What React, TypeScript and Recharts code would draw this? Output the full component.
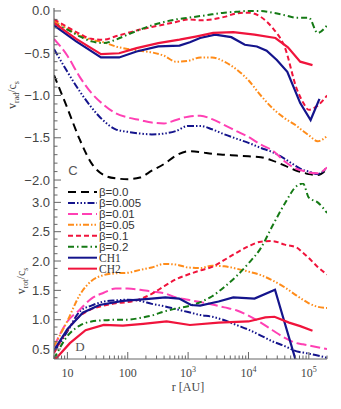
import React from 'react';
import { LineChart, Line, XAxis, YAxis } from 'recharts';

// shared radius grid [AU] for the beta runs
const rGrid = [6, 10, 16, 25, 40, 63, 100, 160, 250, 400, 630, 1000, 1600, 2500, 4000, 6300, 10000, 16000, 25000, 40000, 63000, 80000, 100000, 140000, 200000];

// panel C: v_rad / c_s
const vradB0 = [-0.76, -1.15, -1.52, -1.8, -1.94, -1.98, -1.99, -1.97, -1.89, -1.81, -1.71, -1.66, -1.67, -1.69, -1.7, -1.71, -1.72, -1.73, -1.77, -1.83, -1.89, -1.91, -1.93, -1.94, -1.87];
const vradB005 = [-0.45, -0.72, -0.95, -1.14, -1.3, -1.4, -1.43, -1.45, -1.46, -1.45, -1.42, -1.36, -1.36, -1.4, -1.46, -1.51, -1.56, -1.62, -1.67, -1.75, -1.84, -1.88, -1.9, -1.93, -1.85];
const vradB01 = [-0.33, -0.53, -0.78, -0.97, -1.11, -1.21, -1.26, -1.29, -1.32, -1.33, -1.29, -1.25, -1.24, -1.28, -1.35, -1.42, -1.49, -1.58, -1.65, -1.78, -1.87, -1.89, -1.91, -1.92, -1.85];
const vradB05 = [-0.12, -0.21, -0.29, -0.34, -0.37, -0.42, -0.45, -0.47, -0.49, -0.53, -0.6, -0.59, -0.55, -0.55, -0.6, -0.69, -0.82, -1.0, -1.15, -1.27, -1.36, -1.42, -1.47, -1.54, -1.48];
const vradB1 = [-0.1, -0.19, -0.27, -0.33, -0.34, -0.3, -0.26, -0.22, -0.19, -0.16, -0.13, -0.1, -0.11, -0.1, -0.07, -0.03, -0.02, -0.07, -0.2, -0.43, -0.92, -1.08, -1.17, -1.12, -1.0];
const vradB2 = [-0.15, -0.22, -0.3, -0.36, -0.38, -0.34, -0.28, -0.22, -0.17, -0.13, -0.1, -0.08, -0.06, -0.04, -0.02, -0.01, 0.0, 0.0, -0.02, -0.05, -0.08, -0.08, -0.08, -0.26, -0.17];

const ch1RadR = [6, 14, 36, 72, 140, 320, 720, 1070, 1580, 2800, 5200, 8700, 13800, 20000, 29500, 44000, 72000, 107000, 150000];
const ch1Rad = [-0.17, -0.36, -0.55, -0.55, -0.48, -0.42, -0.41, -0.37, -0.32, -0.28, -0.31, -0.4, -0.42, -0.47, -0.58, -0.72, -1.09, -1.29, -1.04];
const ch2RadR = [6, 14, 36, 72, 140, 320, 720, 1400, 2600, 5600, 12600, 28000, 45000, 72000, 115000];
const ch2Rad = [-0.14, -0.33, -0.51, -0.5, -0.44, -0.38, -0.34, -0.3, -0.26, -0.25, -0.28, -0.32, -0.43, -0.6, -0.64];

// panel D: v_rot / c_s (beta=0 has no rotation, stays off the axis)
const vrotB005 = [0.45, 0.8, 1.14, 1.24, 1.31, 1.33, 1.34, 1.32, 1.27, 1.23, 1.18, 1.13, 1.08, 1.05, 0.99, 0.91, 0.83, 0.73, 0.63, 0.55, 0.46, 0.44, 0.42, 0.39, 0.35];
const vrotB01 = [0.54, 0.97, 1.17, 1.36, 1.46, 1.53, 1.53, 1.51, 1.48, 1.45, 1.38, 1.34, 1.3, 1.26, 1.21, 1.16, 1.07, 0.95, 0.82, 0.69, 0.6, 0.58, 0.56, 0.53, 0.5];
const vrotB05 = [0.55, 0.98, 1.42, 1.66, 1.76, 1.79, 1.8, 1.85, 1.89, 1.95, 1.94, 1.89, 1.88, 1.92, 1.91, 1.87, 1.82, 1.76, 1.67, 1.55, 1.41, 1.34, 1.28, 1.22, 1.2];
const vrotB1 = [0.43, 0.82, 1.06, 1.18, 1.24, 1.28, 1.3, 1.35, 1.44, 1.57, 1.69, 1.77, 1.84, 1.9, 2.02, 2.14, 2.25, 2.33, 2.34, 2.28, 2.23, 2.14, 2.05, 1.9, 1.77];
const vrotB2 = [0.33, 0.72, 0.9, 0.97, 0.99, 1.0, 1.0, 1.03, 1.07, 1.14, 1.19, 1.23, 1.3, 1.4, 1.56, 1.74, 1.96, 2.22, 2.6, 2.98, 3.28, 3.32, 3.08, 3.0, 2.82];

const ch1RotR = [6, 10, 18, 34, 83, 200, 420, 710, 1120, 1580, 3200, 5600, 12600, 27500, 63000];
const ch1Rot = [0.48, 0.84, 1.12, 1.25, 1.32, 1.35, 1.38, 1.36, 1.25, 1.24, 1.31, 1.38, 1.36, 1.51, 0.25];
const ch2RotR = [6, 11, 20, 40, 83, 180, 440, 1070, 3200, 10000, 19000, 27000, 47000, 72000, 115000];
const ch2Rot = [0.3, 0.6, 0.82, 0.91, 0.9, 0.93, 0.97, 0.91, 0.95, 0.97, 1.04, 1.05, 0.95, 0.89, 0.81];

const xMajor = [10, 100, 1000, 10000, 100000];
const xMajorBase = ['10', '100', '10', '10', '10'];
const xMajorExp = ['', '', '3', '4', '5'];
const xTicks = [6, 7, 8, 9, ...[10, 100, 1000, 10000].flatMap((d) => [1, 2, 3, 4, 5, 6, 7, 8, 9].map((m) => m * d)), 100000, 200000];
const yTicksTop = Array.from({ length: 21 }, (_, i) => Math.round((-2 + i * 0.1) * 10) / 10);
const yTicksBot = Array.from({ length: 24 }, (_, i) => 0.375 + i * 0.125);

const series = [
  { key: 'b0', name: 'β=0.0', color: '#000000', dash: '8 5' },
  { key: 'b005', name: 'β=0.005', color: '#14148c', dash: '7 2 1.5 2 1.5 2 1.5 2' },
  { key: 'b01', name: 'β=0.01', color: '#ff40b4', dash: '10 4' },
  { key: 'b05', name: 'β=0.05', color: '#ff8c1a', dash: '6 2 1.5 2 1.5 2' },
  { key: 'b1', name: 'β=0.1', color: '#f0143c', dash: '5 3' },
  { key: 'b2', name: 'β=0.2', color: '#157a15', dash: '6 3 1.5 3' },
  { key: 'ch1', name: 'CH1', color: '#14148c', dash: undefined },
  { key: 'ch2', name: 'CH2', color: '#f0143c', dash: undefined },
];

const topRows = rGrid.map((r, i) => ({ r, b0: vradB0[i], b005: vradB005[i], b01: vradB01[i], b05: vradB05[i], b1: vradB1[i], b2: vradB2[i] }));
const botRows = rGrid.map((r, i) => ({ r, b005: vrotB005[i], b01: vrotB01[i], b05: vrotB05[i], b1: vrotB1[i], b2: vrotB2[i] }));
const ch1Top = ch1RadR.map((r, i) => ({ r, v: ch1Rad[i] }));
const ch2Top = ch2RadR.map((r, i) => ({ r, v: ch2Rad[i] }));
const ch1Bot = ch1RotR.map((r, i) => ({ r, v: ch1Rot[i] }));
const ch2Bot = ch2RotR.map((r, i) => ({ r, v: ch2Rot[i] }));

const frame = '#666';
const ink = '#444';
const sans = '"Liberation Sans", Arial, sans-serif';
const serif = '"Liberation Serif", "Times New Roman", serif';

const xTick = (side: 'top' | 'bottom', labels: boolean) => (p: any) => {
  const v = p.payload.value;
  const mi = xMajor.indexOf(v);
  const len = mi >= 0 ? 7 : 3.5;
  const dir = side === 'bottom' ? -1 : 1;
  return (
    <g>
      <line x1={p.x} x2={p.x} y1={p.y} y2={p.y + dir * len} stroke={frame} strokeWidth={1} />
      {labels && mi >= 0 && (
        <text x={p.x} y={p.y + 18} textAnchor="middle" fontSize={12} fontFamily={serif} fill={ink}>
          {xMajorBase[mi]}
          {xMajorExp[mi] && <tspan dy={-5} fontSize={8}>{xMajorExp[mi]}</tspan>}
        </text>
      )}
    </g>
  );
};

const yTick = (side: 'left' | 'right', labels: boolean) => (p: any) => {
  const v = p.payload.value;
  const major = Math.abs(v * 2 - Math.round(v * 2)) < 1e-6;
  const len = major ? 7 : 3.5;
  const dir = side === 'left' ? 1 : -1;
  return (
    <g>
      <line x1={p.x} x2={p.x + dir * len} y1={p.y} y2={p.y} stroke={frame} strokeWidth={1} />
      {labels && major && (
        <text x={p.x - 4} y={p.y + 4.5} textAnchor="end" fontSize={13} fontFamily={sans} fill={ink}>
          {v.toFixed(1).replace('-', '−')}
        </text>
      )}
    </g>
  );
};

const axisLine = { stroke: frame, strokeWidth: 1.2 };

export default function App() {
  const common = { type: 'number' as const, scale: 'log' as const, domain: [6, 200000], allowDataOverflow: true, ticks: xTicks, interval: 0 as const, tickSize: 0, tickMargin: 0, tickLine: false, axisLine, dataKey: 'r' };
  const betas = series.slice(1, 6);
  return (
    <div style={{ position: 'absolute', left: 0, top: 0, width: 341, height: 409, background: '#fff' }}>
      <LineChart width={341} height={195} data={topRows} margin={{ top: 8, right: 14, bottom: 12, left: 0 }} style={{ position: 'absolute', left: 0, top: 0 }}>
        <XAxis xAxisId="b" orientation="bottom" height={0} {...common} tick={xTick('bottom', false)} />
        <XAxis xAxisId="t" orientation="top" height={0} {...common} tick={xTick('top', false)} />
        <YAxis yAxisId="l" orientation="left" width={54} type="number" domain={[-2.035, 0.035]} allowDataOverflow ticks={yTicksTop} interval={0} tickSize={0} tickMargin={0} tickLine={false} axisLine={axisLine} tick={yTick('left', true)} />
        <YAxis yAxisId="r" orientation="right" width={0} type="number" domain={[-2.035, 0.035]} allowDataOverflow ticks={yTicksTop} interval={0} tickSize={0} tickMargin={0} tickLine={false} axisLine={axisLine} tick={yTick('right', false)} />
        {series.slice(0, 6).map((s) => (
          <Line key={s.key} xAxisId="b" yAxisId="l" dataKey={s.key} type="monotone" stroke={s.color} strokeWidth={2} strokeDasharray={s.dash} dot={false} isAnimationActive={false} />
        ))}
        <Line xAxisId="b" yAxisId="l" data={ch1Top} dataKey="v" type="linear" stroke={series[6].color} strokeWidth={2.2} dot={false} isAnimationActive={false} />
        <Line xAxisId="b" yAxisId="l" data={ch2Top} dataKey="v" type="linear" stroke={series[7].color} strokeWidth={2.2} dot={false} isAnimationActive={false} />
      </LineChart>

      <LineChart width={341} height={231} data={botRows} margin={{ top: 5, right: 14, bottom: 0, left: 0 }} style={{ position: 'absolute', left: 0, top: 178 }}>
        <XAxis xAxisId="b" orientation="bottom" height={50} {...common} tick={xTick('bottom', true)} />
        <XAxis xAxisId="t" orientation="top" height={0} {...common} tick={xTick('top', false)} />
        <YAxis yAxisId="l" orientation="left" width={54} type="number" domain={[0.33, 3.33]} allowDataOverflow ticks={yTicksBot} interval={0} tickSize={0} tickMargin={0} tickLine={false} axisLine={axisLine} tick={yTick('left', true)} />
        <YAxis yAxisId="r" orientation="right" width={0} type="number" domain={[0.33, 3.33]} allowDataOverflow ticks={yTicksBot} interval={0} tickSize={0} tickMargin={0} tickLine={false} axisLine={axisLine} tick={yTick('right', false)} />
        {betas.map((s) => (
          <Line key={s.key} xAxisId="b" yAxisId="l" dataKey={s.key} type="monotone" stroke={s.color} strokeWidth={2} strokeDasharray={s.dash} dot={false} isAnimationActive={false} />
        ))}
        <Line xAxisId="b" yAxisId="l" data={ch1Bot} dataKey="v" type="linear" stroke={series[6].color} strokeWidth={2.2} dot={false} isAnimationActive={false} />
        <Line xAxisId="b" yAxisId="l" data={ch2Bot} dataKey="v" type="linear" stroke={series[7].color} strokeWidth={2.2} dot={false} isAnimationActive={false} />
      </LineChart>

      <svg width={341} height={409} style={{ position: 'absolute', left: 0, top: 0, pointerEvents: 'none' }}>
        <text transform="translate(16,95) rotate(-90)" textAnchor="middle" fontSize={12} fontFamily={serif} fill={ink}>
          v<tspan dy={3} fontSize={8}>rad</tspan><tspan dy={-3}>/c</tspan><tspan dy={3} fontSize={8}>s</tspan>
        </text>
        <text transform="translate(25,281) rotate(-90)" textAnchor="middle" fontSize={12} fontFamily={serif} fill={ink}>
          v<tspan dy={3} fontSize={8}>rot</tspan><tspan dy={-3}>/c</tspan><tspan dy={3} fontSize={8}>s</tspan>
        </text>
        <text x={188} y={391} textAnchor="middle" fontSize={12} fontFamily={serif} fill={ink}>r [AU]</text>
        <text x={73} y={175} textAnchor="middle" fontSize={13} fontFamily={sans} fill="#555">C</text>
        <text x={80} y={351} textAnchor="middle" fontSize={13} fontFamily={serif} fill="#555">D</text>
        {series.map((s, i) => {
          const y = 192 + i * 10.95;
          return (
            <g key={s.key}>
              <line x1={68} x2={97} y1={y} y2={y} stroke={s.color} strokeWidth={2} strokeDasharray={s.dash} />
              <text x={99} y={y + 4} fontSize={11.5} fontFamily={s.key.startsWith('ch') ? serif : sans} fill="#333">{s.name}</text>
            </g>
          );
        })}
      </svg>
    </div>
  );
}
